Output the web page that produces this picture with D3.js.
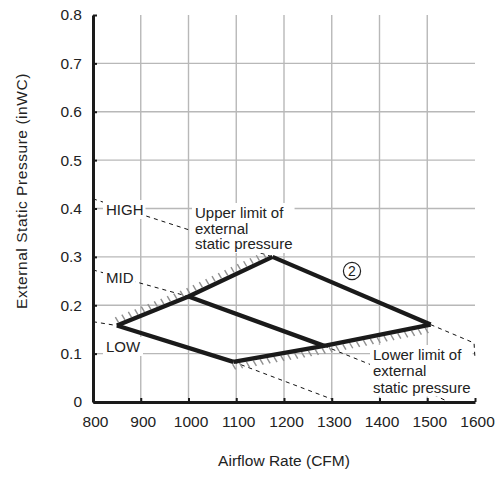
<!DOCTYPE html>
<html>
<head>
<meta charset="utf-8">
<script src="https://cdn.jsdelivr.net/npm/d3@7"></script>
<style>
  body { margin: 0; background: #fff; }
  svg { font-family: "Liberation Sans", Arial, sans-serif; }
  .grid line { stroke: #b8b8b8; stroke-width: 1.4; }
  .axis path, .axis line { stroke: #1a1a1a; }
  .axis path { stroke-width: 3; }
  .axis line { stroke-width: 2; }
  .curve { fill: none; stroke: #1a1a1a; stroke-width: 4.3; stroke-linejoin: miter; }
  .dash { fill: none; stroke: #111; stroke-width: 1; stroke-dasharray: 4 4; }
  .hatch { stroke: #8f8f8f; stroke-width: 1.4; }
  .label { font-size: 15px; fill: #222; }
</style>
</head>
<body>
<svg width="499" height="477"></svg>
<script>
// ticks
const xTicks = [800, 900, 1000, 1100, 1200, 1300, 1400, 1500, 1600];
const yTicks = [0, 0.1, 0.2, 0.3, 0.4, 0.5, 0.6, 0.7, 0.8];

// operating range edges (CFM, inWC)
const upperLimit = [[850, 0.158], [1000, 0.218], [1176, 0.300]];
const lowerLimit = [[1094, 0.083], [1284, 0.116], [1507, 0.160]];

// fan curves: solid part inside range, dashed extensions
const highSolid = [[1176, 0.300], [1507, 0.160]];
const highDashA = [[800, 0.420], [1176, 0.300]];
const highDashB = [[1507, 0.160], [1598, 0.122], [1600, 0.090]];
const midSolid = [[1000, 0.218], [1284, 0.116]];
const midDashA = [[800, 0.273], [1000, 0.218]];
const midDashB = [[1284, 0.116], [1382, 0.077], [1545, 0.0]];
const lowSolid = [[850, 0.158], [1094, 0.083]];
const lowDashA = [[800, 0.166], [850, 0.158]];
const lowDashB = [[1094, 0.083], [1300, 0.006]];

const svg = d3.select("svg");
const pArea = [93, 15, 475, 402];

const x = d3.scaleLinear().domain([800, 1600]).range([pArea[0], pArea[2]]);
const y = d3.scaleLinear().domain([0, 0.8]).range([pArea[3], pArea[1]]);

// grid
const grid = svg.append("g").attr("class", "grid");
grid.selectAll(".gx")
  .data(xTicks.filter(d => d > 800 && d < 1600))
  .enter().append("line")
  .attr("x1", d => x(d)).attr("x2", d => x(d))
  .attr("y1", y(0.8)).attr("y2", y(0));
grid.selectAll(".gy")
  .data(yTicks.filter(d => d > 0 && d < 0.8))
  .enter().append("line")
  .attr("x1", x(800)).attr("x2", x(1600))
  .attr("y1", d => y(d)).attr("y2", d => y(d));

const line = d3.line().x(d => x(d[0])).y(d => y(d[1]));

// dashed extensions
[highDashA, highDashB, midDashA, midDashB, lowDashA, lowDashB].forEach(pts => {
  svg.append("path").attr("class", "dash").attr("d", line(pts));
});

// hatching along a polyline, marks in a fixed direction
function hatch(pts, dx, dy, step, from, to) {
  const px = pts.map(p => [x(p[0]), y(p[1])]);
  let acc = 0, next = from;
  const marks = [];
  for (let i = 0; i < px.length - 1; i++) {
    const [x0, y0] = px[i], [x1, y1] = px[i + 1];
    const len = Math.hypot(x1 - x0, y1 - y0);
    while (next <= acc + len && next <= to) {
      const t = (next - acc) / len;
      marks.push([x0 + t * (x1 - x0), y0 + t * (y1 - y0)]);
      next += step;
    }
    acc += len;
  }
  svg.append("g").selectAll("line").data(marks).enter().append("line")
    .attr("class", "hatch")
    .attr("x1", d => d[0] + dx * 0.45).attr("y1", d => d[1] + dy * 0.45)
    .attr("x2", d => d[0] + dx * 1.65).attr("y2", d => d[1] + dy * 1.65);
}
hatch(upperLimit, -2.6, -4.4, 7, 3, 168);
hatch(lowerLimit, 2.6, 4.4, 7, -2, 346);

// solid curves
[upperLimit, lowerLimit, highSolid, midSolid, lowSolid].forEach(pts => {
  svg.append("path").attr("class", "curve").attr("d", line(pts));
});

// axes
const xAxis = svg.append("g")
  .attr("class", "axis")
  .attr("transform", `translate(0, ${pArea[3]})`)
  .call(d3.axisBottom(x).tickValues(xTicks).tickSizeInner(-4).tickSizeOuter(0).tickPadding(14)
    .tickFormat(d3.format("d")));
xAxis.selectAll("text")
  .attr("dx", 2)
  .style("font-size", "15.5px").style("fill", "#222")
  .style("font-family", "'Liberation Sans', Arial, sans-serif");

const yAxis = svg.append("g")
  .attr("class", "axis")
  .attr("transform", `translate(${pArea[0]}, 0)`)
  .call(d3.axisLeft(y).tickValues(yTicks).tickSizeInner(-4).tickSizeOuter(0).tickPadding(11)
    .tickFormat(d => d === 0 ? "0" : d.toFixed(1)));
yAxis.selectAll("text")
  .style("font-size", "15.5px").style("fill", "#222")
  .style("font-family", "'Liberation Sans', Arial, sans-serif");

// labels with white boxes
function boxedText(lines, tx, ty, lh) {
  const g = svg.append("g");
  const rect = g.append("rect").attr("fill", "#fff");
  const t = g.append("text").attr("class", "label");
  lines.forEach((s, i) => {
    t.append("tspan").attr("x", tx).attr("y", ty + i * lh).text(s);
  });
  const b = t.node().getBBox();
  rect.attr("x", b.x - 3).attr("y", b.y - 1).attr("width", b.width + 5).attr("height", b.height + 2);
}
boxedText(["HIGH"], 106, 215, 16);
boxedText(["MID"], 106, 283, 16);
boxedText(["LOW"], 106, 352, 16);
boxedText(["Upper limit of", "external", "static pressure"], 195, 218, 15.5);
boxedText(["Lower limit of", "external", "static pressure"], 373, 360, 16.3);

// circled 2
svg.append("circle")
  .attr("cx", 352).attr("cy", 271).attr("r", 8.6)
  .attr("fill", "#fff").attr("stroke", "#222").attr("stroke-width", 1.2);
svg.append("text")
  .attr("x", 352).attr("y", 271).attr("dy", "0.36em")
  .attr("text-anchor", "middle")
  .style("font-size", "14px").attr("fill", "#222")
  .text("2");

// axis titles
svg.append("text")
  .attr("x", 284).attr("y", 466)
  .attr("text-anchor", "middle")
  .style("font-size", "15.5px").attr("fill", "#222")
  .text("Airflow Rate (CFM)");

svg.append("text")
  .attr("transform", "translate(26.5, 191) rotate(-90)")
  .attr("text-anchor", "middle")
  .style("font-size", "15.5px").style("letter-spacing", "0.55px").attr("fill", "#222")
  .text("External Static Pressure (inWC)");
</script>
</body>
</html>
